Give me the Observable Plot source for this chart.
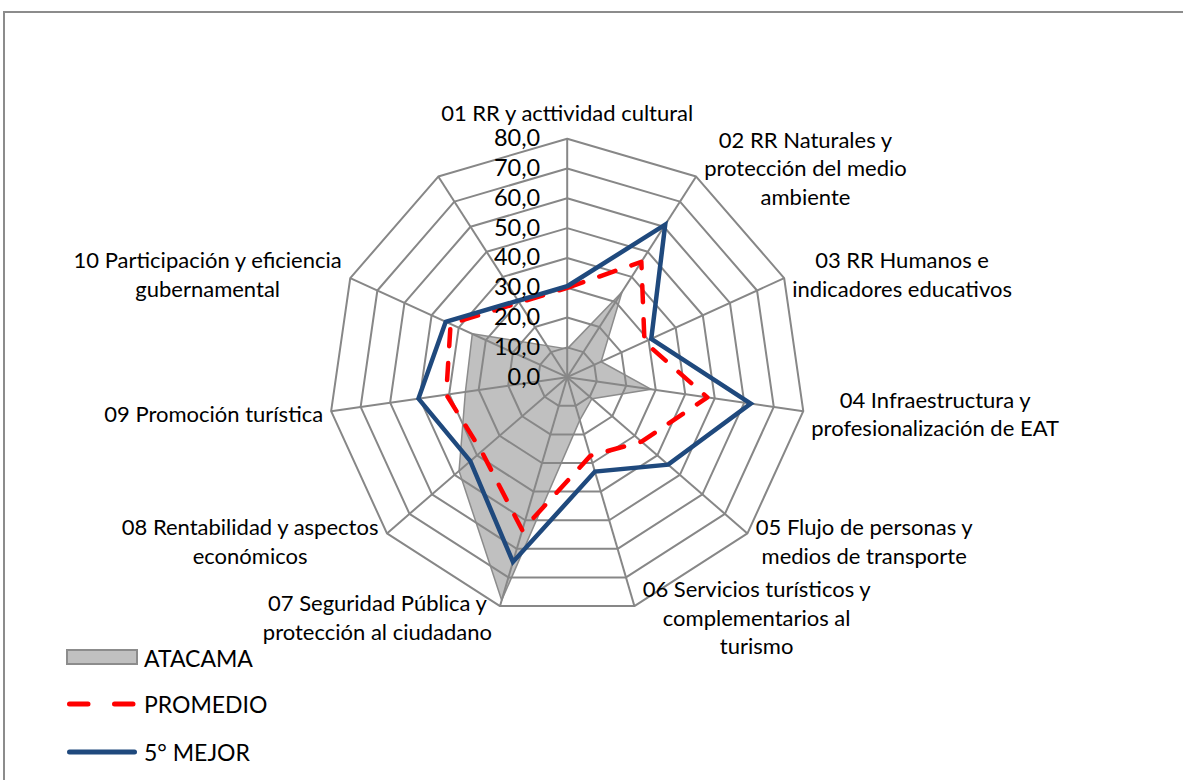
<!DOCTYPE html>
<html>
<head>
<meta charset="utf-8">
<script src="https://cdn.jsdelivr.net/npm/d3@7"></script>
<script src="https://cdn.jsdelivr.net/npm/@observablehq/plot@0.6"></script>
<style>
  html, body { margin: 0; padding: 0; background: #fff; overflow: hidden; width: 1183px; height: 780px; }
  #frame { position: absolute; left: 3px; top: 11px; width: 1300px; height: 900px; border: 2.5px solid #8c8c8c; box-sizing: border-box; }
  #chart { position: absolute; left: 0; top: 0; }
  .leg { position: absolute; left: 0; height: 30px; display: flex; align-items: center; font-family: Lato, sans-serif; font-size: 23px; color: #000; }
  .leg svg { margin-left: 64px; margin-right: 6px; }
</style>
</head>
<body>
<div id="frame"></div>
<div id="chart"></div>
<div id="legend"></div>
<script>
// ---- data ----
const categories = [
  "01 RR y acttividad cultural",
  "02 RR Naturales y\nprotección del medio\nambiente",
  "03 RR Humanos e\nindicadores educativos",
  "04 Infraestructura y\nprofesionalización de EAT",
  "05 Flujo de personas y\nmedios de transporte",
  "06 Servicios turísticos y\ncomplementarios al\nturismo",
  "07 Seguridad Pública y\nprotección al ciudadano",
  "08 Rentabilidad y aspectos\neconómicos",
  "09 Promoción turística",
  "10 Participación y eficiencia\ngubernamental",
  ""
];
const atacama  = [9.5, 34.0, 12.5, 28.5, 11.0, 15.0, 78.0, 48.0, 34.5, 35.0, null];
const promedio = [30.0, 46.0, 28.5, 47.5, 33.0, 27.5, 53.5, 38.0, 41.0, 43.0, null];
const mejor    = [30.5, 60.8, 31.0, 62.2, 44.8, 33.0, 64.6, 43.0, 50.4, 44.8, null];
const seriesNames = ["ATACAMA", "PROMEDIO", "5° MEJOR"];
const ringTicks = [0, 10, 20, 30, 40, 50, 60, 70, 80];

// ---- geometry ----
const W = 1183, H = 780;
const cxPx = 566.7, cyPx = 376.7, Rpx = 238.5;
const maxV = d3.max(ringTicks);
const k = Rpx / maxV; // px per unit
const n = categories.length;
const ang = i => 2 * Math.PI * i / n;
const px = (i, v) => v * Math.sin(ang(i));
const py = (i, v) => v * Math.cos(ang(i));
const pts = values => values.map((v, i) => v == null ? null : {x: px(i, v), y: py(i, v)}).filter(Boolean);

const rings = ringTicks.filter(t => t > 0).flatMap(t => categories.map((_, i) => ({ring: t, x: px(i, t), y: py(i, t)})));
const spokes = categories.map((_, i) => ({x1: 0, y1: 0, x2: px(i, maxV), y2: py(i, maxV)}));

const labelSize = 22, tickSize = 23.5, lineH = 1.3, fontFamily = "Lato, sans-serif";
const ctx = document.createElement("canvas").getContext("2d");
ctx.font = `${labelSize}px Lato`;
const labelData = categories.map((label, i) => {
  if (!label) return null;
  const lines = label.split("\n");
  const w = Math.max(...lines.map(l => ctx.measureText(l).width));
  const h = lines.length * lineH * labelSize;
  const s = Math.sin(ang(i)), c = Math.cos(ang(i));
  let x, y;
  if (Math.abs(s) < 0.1) {
    x = 0; y = maxV + Math.sign(c) * (13 + h / 2) / k;
  } else {
    x = px(i, maxV) + Math.sign(s) * (8 + w / 2) / k;
    y = py(i, maxV) + c * 11 / k;
  }
  return {x, y, label};
}).filter(Boolean);

const fmt = v => d3.format(".1f")(v).replace(".", ",");

const chart = Plot.plot({
  width: W, height: H,
  marginTop: 0, marginRight: 0, marginBottom: 0, marginLeft: 0,
  x: {domain: [-cxPx / k, (W - cxPx) / k], range: [0, W], axis: null},
  y: {domain: [-(H - cyPx) / k, cyPx / k], range: [H, 0], axis: null},
  style: {fontFamily, background: "transparent", overflow: "visible"},
  marks: [
    Plot.line(pts(atacama), {x: "x", y: "y", curve: "linear-closed", fill: "#c0c0c0", stroke: "#8c8c8c", strokeWidth: 1.5}),
    Plot.line(rings, {x: "x", y: "y", z: "ring", curve: "linear-closed", stroke: "#878787", strokeWidth: 2}),
    Plot.link(spokes, {x1: "x1", y1: "y1", x2: "x2", y2: "y2", stroke: "#878787", strokeWidth: 2}),
    Plot.line(pts(promedio), {x: "x", y: "y", curve: "linear-closed", stroke: "#ff0000", strokeWidth: 4.5, strokeDasharray: "17,17", strokeLinecap: "round", strokeLinejoin: "round"}),
    Plot.line(pts(mejor), {x: "x", y: "y", curve: "linear-closed", stroke: "#1f497d", strokeWidth: 4.5, strokeLinejoin: "miter", strokeMiterlimit: 10}),
    Plot.text(ringTicks, {x: d => 0, y: d => d, text: fmt, textAnchor: "end", dx: -27, fontSize: tickSize, fill: "#000"}),
    Plot.text(labelData, {x: "x", y: "y", text: "label", textAnchor: "middle", lineAnchor: "middle", lineHeight: lineH, fontSize: labelSize, fill: "#000"})
  ]
});
document.getElementById("chart").appendChild(chart);

// ---- legend ----
const legend = document.getElementById("legend");
const legTops = [643, 689, 737];
const swatches = [
  `<svg width="74" height="20"><rect x="3" y="2" width="70" height="14" fill="#c0c0c0" stroke="#8c8c8c" stroke-width="2"/></svg>`,
  `<svg width="74" height="20"><line x1="5.5" y1="10" x2="70.5" y2="10" stroke="#ff0000" stroke-width="5" stroke-linecap="round" stroke-dasharray="18.5 26.5"/></svg>`,
  `<svg width="74" height="20"><line x1="5.5" y1="10" x2="70.5" y2="10" stroke="#1f497d" stroke-width="5" stroke-linecap="round"/></svg>`
];
seriesNames.forEach((name, i) => {
  const div = document.createElement("div");
  div.className = "leg";
  div.style.top = legTops[i] + "px";
  div.innerHTML = swatches[i] + `<span>${name}</span>`;
  legend.appendChild(div);
});
</script>
</body>
</html>
